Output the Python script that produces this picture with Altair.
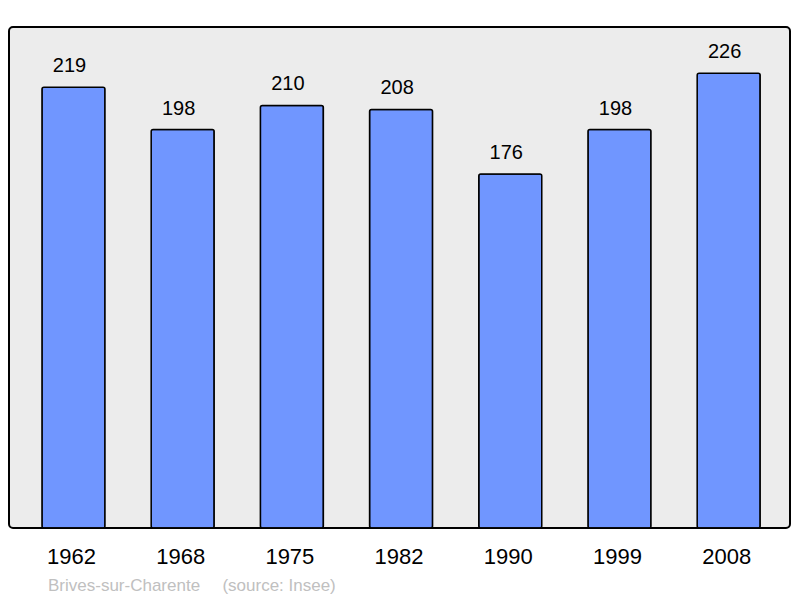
import altair as alt
import pandas as pd

years = ["1962", "1968", "1975", "1982", "1990", "1999", "2008"]
population = [219, 198, 210, 208, 176, 198, 226]

df = pd.DataFrame({"year": years, "pop": population})

base = alt.Chart(df).encode(
    x=alt.X(
        "year:N",
        sort=None,
        title=None,
        scale=alt.Scale(paddingInner=0.423, paddingOuter=0.2875, align=0.525),
        axis=alt.Axis(
            labelAngle=0,
            labelFontSize=22,
            labelFont="Liberation Sans",
            labelColor="#000000",
            labelPadding=18,
            labelOffset=-2,
            domain=False,
            ticks=False,
        ),
    ),
    y=alt.Y(
        "pop:Q",
        title=None,
        scale=alt.Scale(domain=[0, 249], nice=False, zero=True),
        axis=None,
    ),
)

bars = base.mark_bar(
    color="#7096ff",
    stroke="#000000",
    strokeWidth=1.5,
    cornerRadius=2,
)

labels = base.mark_text(
    dy=-15,
    dx=-4,
    baseline="alphabetic",
    fontSize=20,
    font="Liberation Sans",
    color="#000000",
).encode(text="pop:Q")

chart = (
    alt.layer(bars, labels)
    .properties(
        width=781,
        height=501,
        autosize=alt.AutoSizeParams(type="none"),
        padding={"left": 1, "top": 19, "right": 2, "bottom": 70},
        title=alt.TitleParams(
            "Brives-sur-Charente\u00a0\u00a0\u00a0\u00a0\u2009(source: Insee)",
            orient="bottom",
            anchor="start",
            fontSize=17,
            font="Liberation Sans",
            fontWeight="normal",
            color="#c0c0c0",
            dx=39,
            offset=11,
        ),
    )
    .configure_view(
        fill="#ececec",
        stroke="#000000",
        strokeWidth=2,
        cornerRadius=4,
    )
)

chart.save("out.html", embed_options={"renderer": "svg", "actions": False})
